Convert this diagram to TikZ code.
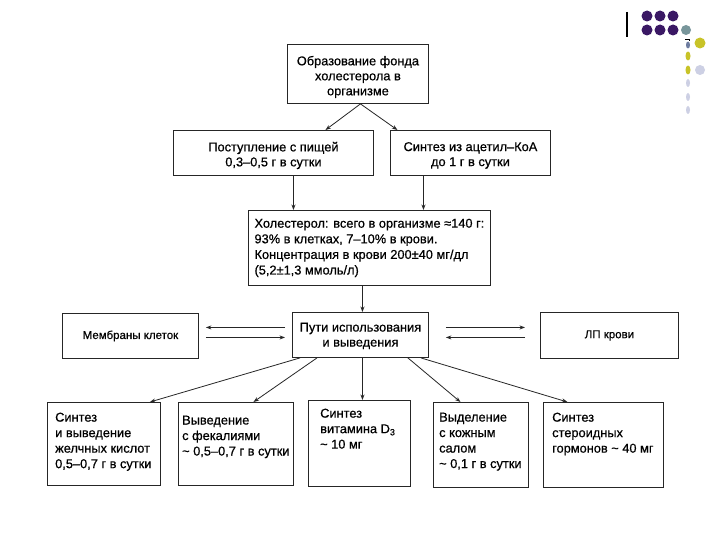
\documentclass[tikz,border=0pt]{standalone}
\usepackage{fontspec}
\setmainfont{Liberation Sans}[FakeBold=0.6]
\usetikzlibrary{arrows.meta,calc}
\definecolor{dpurple}{RGB}{58,24,100}
\definecolor{tealc}{RGB}{120,150,155}
\definecolor{yellowc}{RGB}{200,195,40}
\definecolor{lightc}{RGB}{205,208,228}
\definecolor{slatec}{RGB}{110,125,160}
\begin{document}
\begin{tikzpicture}[x=1pt,y=-1pt,
  box/.style={draw=black!85,line width=0.9pt,inner sep=0pt,anchor=north west},
  lbl/.style={font=\fontsize{12.8}{15}\selectfont,align=center},
  sml/.style={font=\fontsize{11.5}{14}\selectfont},
  txt/.style={font=\fontsize{12.8}{15.5}\selectfont,align=left,inner sep=0pt,anchor=north west},
  arr/.style={draw=black!85,line width=0.8pt,-{Stealth[length=5.5pt,width=4pt]}},
]
\fill[white] (0,0) rectangle (720,540);
\useasboundingbox (0,0) rectangle (720,540);

% decoration
\draw[line width=1.2pt] (627,12) -- (627,37);
\foreach \x in {647,660,673} \foreach \y in {16,30} \fill[dpurple] (\x,\y) circle[radius=5.5pt];
\fill[tealc] (686,30) circle[radius=5pt];
\fill[yellowc] (700,43) circle[radius=5.5pt];
\fill[lightc] (700,70) circle[radius=5pt];
\draw[line width=0.8pt] (685,39) -- (689,39) -- (689,41);
\fill[slatec] (688,45) ellipse[x radius=2pt, y radius=3.5pt];
\fill[yellowc] (688,56) ellipse[x radius=2.5pt, y radius=4.5pt];
\fill[yellowc] (688,70) ellipse[x radius=2.5pt, y radius=4.5pt];
\foreach \y in {83,97,110} \fill[lightc] (688,\y) ellipse[x radius=2pt, y radius=4pt];

% boxes
\node[box,minimum width=141pt,minimum height=59pt] (top) at (287,44) {};
\node[lbl,yshift=-3pt] (topt) at (top.center) {Образование фонда\\холестерола в\\организме};
\node[box,minimum width=200pt,minimum height=45pt] (src1) at (173,130) {};
\node[lbl,yshift=-2.5pt] (src1t) at (src1.center) {Поступление с пищей\\0,3–0,5 г в сутки};
\node[box,minimum width=160pt,minimum height=45pt] (src2) at (390,130) {};
\node[lbl,yshift=-2.5pt] (src2t) at (src2.center) {Синтез из ацетил–КоА\\до 1 г в сутки};
\node[box,font=\fontsize{12.8}{15.6}\selectfont,align=left,minimum width=242pt,minimum height=75pt] (chol) at (248,210) {Холестерол: всего в организме ≈140 г:\\93\% в клетках, 7–10\% в крови.\\Концентрация в крови 200±40 мг/дл\\(5,2±1,3 ммоль/л)};
\node[box,minimum width=136pt,minimum height=45pt] (use) at (292,312) {};
\node[lbl,yshift=-1pt] (uset) at (use.center) {Пути использования\\и выведения};
\node[box,sml,minimum width=136pt,minimum height=45pt] (mem) at (62,313) {Мембраны клеток};
\node[box,sml,minimum width=138pt,minimum height=46pt] (lp) at (540,312) {ЛП крови};

\node[box,minimum width=113pt,minimum height=83pt] (b1) at (47,402) {};
\node[box,minimum width=115pt,minimum height=83pt] (b2) at (178,402) {};
\node[box,minimum width=102pt,minimum height=86pt] (b3) at (308,400) {};
\node[box,minimum width=95pt,minimum height=85pt] (b4) at (433,402) {};
\node[box,minimum width=120pt,minimum height=85pt] (b5) at (543,402) {};

\node[txt] (t1) at ($(b1.north west)+(8,10.5)$) {Синтез\\и выведение\\желчных кислот\\0,5–0,7 г в сутки};
\node[txt] (t2) at ($(b2.north west)+(4,13.5)$) {Выведение\\с фекалиями\\\textasciitilde\ 0,5–0,7 г в сутки};
\node[txt] (t3) at ($(b3.north west)+(12,8.5)$) {Синтез\\витамина D\textsubscript{3}\\\textasciitilde\ 10 мг};
\node[txt] (t4) at ($(b4.north west)+(6,10.5)$) {Выделение\\с кожным\\салом\\\textasciitilde\ 0,1 г в сутки};
\node[txt] (t5) at ($(b5.north west)+(9,10.5)$) {Синтез\\стероидных\\гормонов \textasciitilde\ 40 мг};

% connectors
\draw[arr] ([xshift=2.5pt]top.south) -- ([xshift=52pt]src1.north);
\draw[arr] ([xshift=2.5pt]top.south) -- ([xshift=-73pt]src2.north);
\draw[arr] ([xshift=20pt]src1.south) -- ([xshift=20pt]src1.south |- chol.north);
\draw[arr] ([xshift=-47pt]src2.south) -- ([xshift=-47pt]src2.south |- chol.north);
\draw[arr] ([xshift=-7pt]chol.south) -- ([xshift=-7pt]chol.south |- use.north);

\draw[arr,shorten <=7pt,shorten >=7pt] ([yshift=7.5pt]use.west) -- ([yshift=7.5pt]use.west -| mem.east);
\draw[arr,shorten <=7pt,shorten >=7pt] ([yshift=-2.5pt]use.west -| mem.east) -- ([yshift=-2.5pt]use.west);
\draw[arr,shorten <=17pt,shorten >=15pt] ([yshift=7.5pt]use.east) -- ([yshift=7.5pt]use.east -| lp.west);
\draw[arr,shorten <=15pt,shorten >=17pt] ([yshift=-2.5pt]use.east -| lp.west) -- ([yshift=-2.5pt]use.east);

\draw[arr] ([xshift=8pt]use.south west) -- ([xshift=46pt]b1.north);
\draw[arr] ([xshift=25pt]use.south west) -- ([xshift=17.5pt]b2.north);
\draw[arr] ([xshift=3pt]b3.north |- use.south) -- ([xshift=3pt]b3.north);
\draw[arr] ([xshift=-21pt]use.south east) -- ([xshift=-20.5pt]b4.north);
\draw[arr] ([xshift=-8pt]use.south east) -- ([xshift=-36pt]b5.north);
\end{tikzpicture}
\end{document}
